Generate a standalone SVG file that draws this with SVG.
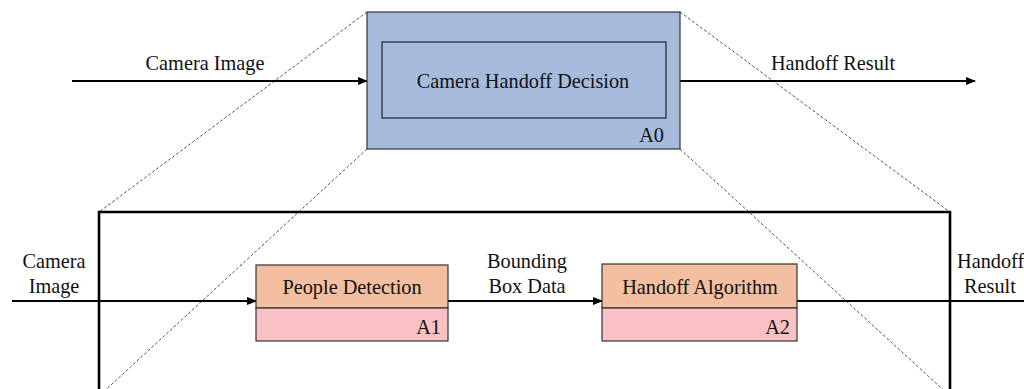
<svg xmlns="http://www.w3.org/2000/svg" width="1024" height="389" viewBox="0 0 1024 389">
  <defs>
    <marker id="arrow" markerWidth="10" markerHeight="8" refX="9" refY="4" orient="auto" markerUnits="userSpaceOnUse">
      <path d="M0,0 L10,4 L0,8 Z" fill="#000"/>
    </marker>
    <style>
      text { font-family: "Liberation Serif", "Times New Roman", serif; font-size: 20.3px; fill: #111; }
      .mid { text-anchor: middle; }
      .end { text-anchor: end; }
      .flow { stroke: #000; stroke-width: 2.2; fill: none; }
      .zoom { stroke: #555; stroke-width: 1; stroke-dasharray: 3 2; fill: none; }
      .top { fill: #F3BFA0; stroke: #333; stroke-width: 1.2; }
      .bot { fill: #F8C1C3; stroke: #333; stroke-width: 1.2; }
    </style>
  </defs>
  <rect width="1024" height="389" fill="#fff"/>

  <!-- dashed lines projecting A0 onto the decomposition frame -->
  <g id="projection">
    <line class="zoom" x1="367" y1="12" x2="99" y2="212"/>
    <line class="zoom" x1="367" y1="149" x2="99" y2="396"/>
    <line class="zoom" x1="680" y1="12" x2="950" y2="212"/>
    <line class="zoom" x1="680" y1="149" x2="950" y2="396"/>
  </g>

  <!-- decomposition frame -->
  <g id="frame">
    <path d="M99,395 V212 H950 V395" stroke="#000" stroke-width="2.6" fill="none"/>
  </g>

  <g id="connectors">
    <line class="flow" x1="72" y1="81" x2="367" y2="81" marker-end="url(#arrow)"/>
    <line class="flow" x1="680" y1="81" x2="975" y2="81" marker-end="url(#arrow)"/>
    <line class="flow" x1="12" y1="301" x2="256" y2="301" marker-end="url(#arrow)"/>
    <line class="flow" x1="448" y1="301" x2="602" y2="301" marker-end="url(#arrow)"/>
    <line class="flow" x1="797" y1="301" x2="1024" y2="301"/>
    <text class="mid" x="205" y="70">Camera Image</text>
    <text class="mid" x="833" y="70">Handoff Result</text>
    <text class="mid" x="54" y="268">Camera</text>
    <text class="mid" x="54" y="293">Image</text>
    <text class="mid" x="527" y="268">Bounding</text>
    <text class="mid" x="527" y="293">Box Data</text>
    <text x="957" y="268">Handoff</text>
    <text x="964" y="293">Result</text>
  </g>

  <g id="A0">
    <rect x="367" y="12" width="313" height="137" fill="#A6BBDC" stroke="#333" stroke-width="1.2"/>
    <rect x="382" y="42" width="284" height="76" fill="none" stroke="#222" stroke-width="1.2"/>
    <text class="mid" x="523" y="88">Camera Handoff Decision</text>
    <text class="end" x="664" y="142">A0</text>
  </g>

  <g id="A1">
    <rect class="top" x="256" y="265" width="192" height="43"/>
    <rect class="bot" x="256" y="308" width="192" height="33"/>
    <text class="mid" x="352" y="294">People Detection</text>
    <text class="end" x="441" y="334">A1</text>
  </g>

  <g id="A2">
    <rect class="top" x="602" y="264" width="195" height="44"/>
    <rect class="bot" x="602" y="308" width="195" height="33"/>
    <text class="mid" x="700" y="294">Handoff Algorithm</text>
    <text class="end" x="790" y="334">A2</text>
  </g>
</svg>
